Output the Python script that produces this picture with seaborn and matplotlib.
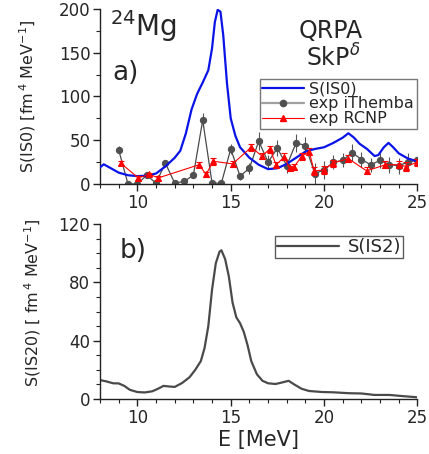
import numpy as np
import pandas as pd
import matplotlib
matplotlib.use("Agg")
import matplotlib.pyplot as plt
import seaborn as sns
from matplotlib.ticker import MultipleLocator
from matplotlib.lines import Line2D

# QRPA SkP-delta strength S(IS0), panel a)
is0_e = [8.0, 8.2, 8.5, 9.0, 9.5, 10.0, 10.5, 11.0, 11.5, 12.0, 12.3, 12.6, 12.9,
         13.2, 13.5, 13.8, 14.0, 14.15, 14.3, 14.45, 14.6, 14.8, 15.0, 15.25, 15.5,
         16.0, 16.5, 17.0, 17.5, 18.0, 18.5, 19.0, 19.5, 20.0, 20.5, 21.0, 21.3,
         21.6, 21.9, 22.3, 22.7, 22.9, 23.2, 23.45, 23.7, 24.0, 24.5, 25.0]
is0_s = [19, 22.5, 19, 13, 10, 9, 9.5, 12, 20, 30, 38, 58, 85,
         103, 116, 130, 155, 185, 199, 197, 170, 115, 75, 55, 42,
         30, 22, 17, 18, 23, 30, 37, 40, 42, 47, 53, 58,
         53, 46, 40, 32, 33, 42, 47, 42, 35, 29, 26]

# exp iThemba
ith_e = [9.0, 9.5, 10.0, 10.5, 11.0, 11.5, 12.0, 12.5, 13.0, 13.5, 14.0, 14.5,
         15.0, 15.5, 16.0, 16.5, 17.0, 17.5, 18.0, 18.5, 19.0, 19.5, 20.0, 20.5,
         21.0, 21.5, 22.0, 22.5, 23.0, 23.5, 24.0, 24.5, 25.0]
ith_s = [39, 0, 0, 10, 1, 24, 1, 3, 10, 73, 1, 1,
         40, 9, 18, 49, 25, 41, 21, 47, 44, 12, 16, 25,
         27, 36, 28, 22, 27, 22, 21, 25, 27]
ith_err = [4, 2, 2, 3, 2, 4, 2, 2, 3, 8, 2, 2,
           6, 4, 6, 10, 8, 9, 8, 10, 10, 12, 10, 8,
           8, 10, 9, 8, 9, 9, 9, 10, 10]

# exp RCNP
rcnp_e = [9.1, 10.05, 10.65, 11.13, 13.3, 13.68, 14.07, 15.1, 16.1, 16.67, 17.1,
          17.43, 17.87, 18.15, 18.4, 18.82, 19.2, 19.47, 19.97, 20.48, 21.3,
          22.28, 23.28, 24.0, 24.4, 25.0]
rcnp_s = [24, 7, 11, 7, 22, 11, 26, 23, 42, 32, 40,
          22, 31, 18, 20, 32, 37, 15, 16, 24, 29,
          15, 22, 22, 20, 25]
rcnp_err = [2, 2, 2, 2, 3, 3, 4, 3, 4, 3, 4,
            3, 4, 3, 3, 4, 4, 5, 5, 4, 4,
            4, 4, 4, 5, 4]

# S(IS2), panel b)
is2_e = [8.0, 8.3, 8.7, 9.0, 9.3, 9.6, 10.0, 10.4, 10.8, 11.1, 11.4, 11.7, 12.0,
         12.4, 12.8, 13.1, 13.4, 13.6, 13.8, 14.0, 14.2, 14.4, 14.5, 14.7, 14.9,
         15.1, 15.3, 15.5, 15.7, 15.9, 16.1, 16.4, 16.7, 17.0, 17.4, 17.8, 18.1,
         18.4, 18.8, 19.2, 19.9, 20.5, 21.3, 22.0, 22.7, 23.5, 24.2, 25.0]
is2_s = [13, 12.2, 10.8, 10.7, 9, 6.3, 4.8, 4.5, 5.3, 7, 9, 8.6, 8.3,
         11, 15, 20, 26, 35, 50, 75, 93, 101, 102, 96, 84,
         66, 56, 52, 46, 37, 26, 17, 12.5, 10.8, 10.3, 11.5, 12.5,
         10, 7, 5.5, 4.8, 4.6, 4, 3.8, 2.8, 2.8, 2.0, 1.2]

is0_df = pd.DataFrame({"E": is0_e, "S": is0_s})
ith_df = pd.DataFrame({"E": ith_e, "S": ith_s})
rcnp_df = pd.DataFrame({"E": rcnp_e, "S": rcnp_s})
is2_df = pd.DataFrame({"E": is2_e, "S": is2_s})

sns.set_style("ticks")
plt.rcParams["font.family"] = ["DejaVu Sans"]
plt.rcParams["mathtext.fontset"] = "dejavusans"

fig = plt.figure(figsize=(4.29, 4.54), dpi=100)
ax1 = fig.add_axes([0.2331, 0.5947, 0.740, 0.3855])
ax2 = fig.add_axes([0.2331, 0.1211, 0.740, 0.3855])

blue = "#0a14e6"
gray_pt = "#505050"
red = "#ff0000"

# ---- panel a)
sns.lineplot(data=is0_df, x="E", y="S", ax=ax1, color=blue, lw=1.6,
             sort=False, estimator=None, zorder=3, legend=False)
ax1.errorbar(ith_e, ith_s, yerr=ith_err, fmt="none", ecolor="#555555",
             elinewidth=0.8, capsize=0, zorder=2)
sns.lineplot(data=ith_df, x="E", y="S", ax=ax1, color="#4a4a4a", lw=0.9,
             marker="o", markersize=4.5, markerfacecolor=gray_pt,
             markeredgecolor=gray_pt, sort=False, estimator=None, zorder=2,
             legend=False)
ax1.errorbar(rcnp_e, rcnp_s, yerr=rcnp_err, fmt="none", ecolor=red,
             elinewidth=0.8, capsize=2, capthick=0.8, zorder=4)
sns.lineplot(data=rcnp_df, x="E", y="S", ax=ax1, color=red, lw=0.8,
             marker="^", markersize=5, markerfacecolor=red, markeredgecolor=red,
             sort=False, estimator=None, zorder=4, legend=False)

ax1.set_xlim(8, 25)
ax1.set_ylim(0, 200)
ax1.xaxis.set_minor_locator(MultipleLocator(1))
ax1.yaxis.set_major_locator(MultipleLocator(50))
ax1.yaxis.set_minor_locator(MultipleLocator(25))
ax1.set_xticks([10, 15, 20, 25])
ax1.set_xlabel("")
ax1.set_ylabel(r"S(IS0) [fm$^{\,4}$ MeV$^{-1}$]", fontsize=11.5)
ax1.yaxis.set_label_coords(-0.195, 0.5)

ax1.text(0.03, 0.846, r"$^{24}$Mg", transform=ax1.transAxes, fontsize=20,
         ha="left", va="baseline")
ax1.text(0.04, 0.594, "a)", transform=ax1.transAxes, fontsize=19,
         ha="left", va="baseline")
ax1.text(0.728, 0.834, "QRPA", transform=ax1.transAxes, fontsize=17,
         ha="center", va="baseline")
ax1.text(0.735, 0.669, r"SkP$^{\delta}$", transform=ax1.transAxes, fontsize=17,
         ha="center", va="baseline")

handles1 = [Line2D([], [], color=blue, lw=1.6),
            Line2D([], [], color="#a0a0a0", lw=1.6, marker="o", ms=4.5,
                   mfc=gray_pt, mec=gray_pt),
            Line2D([], [], color=red, lw=0.8, marker="^", ms=5, mfc=red, mec=red)]
leg1 = ax1.legend(handles1, ["S(IS0)", "exp iThemba", "exp RCNP"],
                  loc="upper right", bbox_to_anchor=(0.997, 0.60),
                  borderaxespad=0, fontsize=11.5, frameon=True, fancybox=False,
                  handlelength=2.6, handletextpad=0.35, labelspacing=0.0,
                  borderpad=0.15, edgecolor="#555555")
leg1.get_frame().set_linewidth(1.0)

# ---- panel b)
sns.lineplot(data=is2_df, x="E", y="S", ax=ax2, color="#4a4a4a", lw=1.6,
             sort=False, estimator=None, legend=False)
ax2.set_xlim(8, 25)
ax2.set_ylim(0, 120)
ax2.xaxis.set_minor_locator(MultipleLocator(1))
ax2.yaxis.set_major_locator(MultipleLocator(40))
ax2.yaxis.set_minor_locator(MultipleLocator(10))
ax2.set_xticks([10, 15, 20, 25])
ax2.set_xlabel("E [MeV]", fontsize=15, labelpad=2)
ax2.set_ylabel(r"S(IS20) [ fm$^{\,4}$ MeV$^{-1}$]", fontsize=11.5)
ax2.yaxis.set_label_coords(-0.178, 0.55)
ax2.text(0.063, 0.806, "b)", transform=ax2.transAxes, fontsize=19,
         ha="left", va="baseline")

leg2 = ax2.legend([Line2D([], [], color="#4a4a4a", lw=1.6)], ["S(IS2)"],
                  loc="upper right", bbox_to_anchor=(0.954, 0.931),
                  borderaxespad=0, fontsize=13, frameon=True, fancybox=False,
                  handlelength=3.4, handletextpad=0.5, borderpad=0.1,
                  edgecolor="#333333")
leg2.get_frame().set_linewidth(1.0)

for ax in (ax1, ax2):
    sns.despine(ax=ax)
    for side in ("left", "bottom"):
        ax.spines[side].set_color("#222222")
        ax.spines[side].set_linewidth(1.0)
    ax.tick_params(which="major", direction="out", length=5, width=1,
                   labelsize=12, pad=2, color="#222222")
    ax.tick_params(which="minor", direction="out", length=3, width=0.8,
                   color="#222222")

fig.savefig("out.png", dpi=100)
